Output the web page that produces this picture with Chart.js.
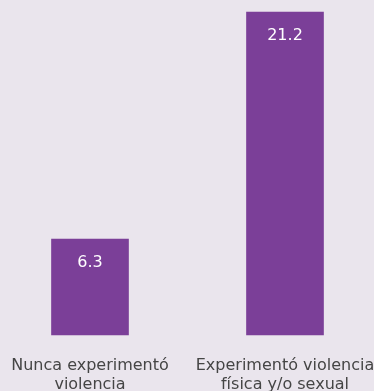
<!DOCTYPE html>
<html>
<head>
<meta charset="utf-8">
<script src="https://cdn.jsdelivr.net/npm/chart.js@4"></script>
<style>
  html, body { margin: 0; padding: 0; background: #eae5ed; }
  #wrap { width: 374px; height: 391px; }
</style>
</head>
<body>
<div id="wrap"><canvas id="chart"></canvas></div>
<script>
const categories = [
  ['Nunca experimentó', 'violencia'],
  ['Experimentó violencia', 'física y/o sexual']
];
const values = [6.3, 21.2];

// draw the value inside the top of each bar
const valueLabels = {
  id: 'valueLabels',
  afterDatasetsDraw(chart) {
    const ctx = chart.ctx;
    const meta = chart.getDatasetMeta(0);
    ctx.save();
    ctx.fillStyle = '#ffffff';
    ctx.font = '16px "DejaVu Sans"';
    ctx.textAlign = 'center';
    ctx.textBaseline = 'middle';
    meta.data.forEach((bar, i) => {
      ctx.fillText(values[i].toFixed(1), bar.x, bar.y + 24);
    });
    ctx.restore();
  }
};

new Chart(document.getElementById('chart'), {
  type: 'bar',
  data: {
    labels: categories,
    datasets: [{
      data: values,
      backgroundColor: '#7b3f98',
      barThickness: 77,
      clip: false
    }]
  },
  options: {
    responsive: true,
    maintainAspectRatio: false,
    animation: false,
    layout: { padding: { top: 12, left: 90, right: 89, bottom: 0 } },
    plugins: { legend: { display: false }, tooltip: { enabled: false } },
    scales: {
      x: {
        offset: false,
        grid: { display: false, drawTicks: false },
        border: { display: false },
        ticks: {
          autoSkip: false,
          maxRotation: 0,
          padding: 21,
          color: '#454545',
          font: { family: '"DejaVu Sans"', size: 16, lineHeight: 1.19 }
        },
        afterFit(scale) {
          scale.height = 56;
          scale.paddingLeft = 0;
          scale.paddingRight = 0;
        }
      },
      y: {
        display: false,
        min: 0,
        max: 21.2
      }
    }
  },
  plugins: [valueLabels]
});
</script>
</body>
</html>
